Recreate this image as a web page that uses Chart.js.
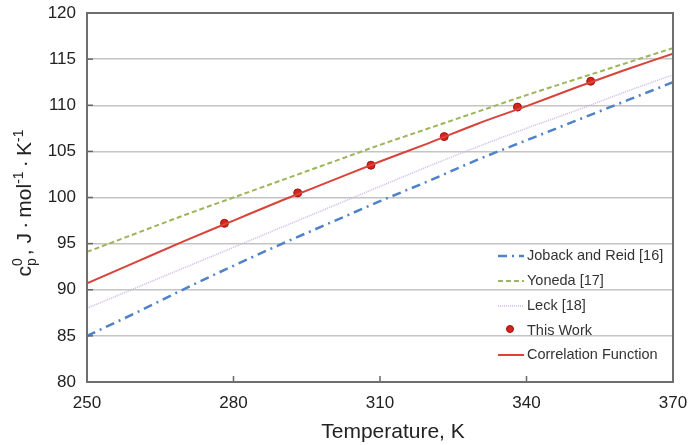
<!DOCTYPE html>
<html>
<head>
<meta charset="utf-8">
<script src="https://cdn.jsdelivr.net/npm/chart.js@4.4.1/dist/chart.umd.min.js"></script>
<style>
html,body{margin:0;padding:0;background:#fff;}
#wrap{position:relative;width:688px;height:445px;}
</style>
</head>
<body>
<div id="wrap"><canvas id="c"></canvas></div>
<script>
// ---- data ----
const temps = [250, 260, 270, 280, 290, 300, 310, 320, 330, 340, 350, 360, 370];
const jobackReid = [85.0, 87.5, 90.1, 92.6, 95.0, 97.3, 99.6, 101.8, 104.1, 106.2, 108.3, 110.4, 112.5];
const yoneda = [94.1, 96.1, 98.1, 100.0, 101.9, 103.8, 105.7, 107.5, 109.3, 111.1, 112.8, 114.5, 116.2];
const leck = [88.0, 90.2, 92.4, 94.6, 96.8, 99.0, 101.2, 103.4, 105.5, 107.5, 109.4, 111.4, 113.3];
const correlation = [90.7, 93.0, 95.3, 97.5, 99.7, 101.8, 103.9, 105.9, 108.0, 109.9, 111.9, 113.8, 115.6];
const workT = [278.15, 293.15, 308.15, 323.15, 338.15, 353.15];
const workCp = [97.2, 100.5, 103.5, 106.6, 109.8, 112.6];
const xTicks = [250, 280, 310, 340, 370];
const yTicks = [80, 85, 90, 95, 100, 105, 110, 115, 120];
const seriesNames = ['Joback and Reid [16]', 'Yoneda [17]', 'Leck [18]', 'This Work', 'Correlation Function'];

const pts = (xs, ys) => xs.map((x, i) => ({x: x, y: ys[i]}));
const FONT = "'Liberation Sans', Arial, sans-serif";

const colors = {
  joback: '#4f82c8',
  yoneda: '#9bb65a',
  leck: '#cbb9e6',
  work: '#d8221c',
  corr: '#d8433a'
};

const lineBase = {showLine: true, pointRadius: 0, fill: false, cubicInterpolationMode: 'monotone'};

const datasets = [
  Object.assign({}, lineBase, {label: seriesNames[0], data: pts(temps, jobackReid), borderColor: colors.joback, borderWidth: 2.5, borderDash: [9, 5, 2, 5]}),
  Object.assign({}, lineBase, {label: seriesNames[1], data: pts(temps, yoneda), borderColor: colors.yoneda, borderWidth: 2, borderDash: [5, 3]}),
  Object.assign({}, lineBase, {label: seriesNames[2], data: pts(temps, leck), borderColor: colors.leck, borderWidth: 1.5, borderDash: [1, 1]}),
  Object.assign({}, lineBase, {label: seriesNames[4], data: pts(temps, correlation), borderColor: colors.corr, borderWidth: 2}),
  {label: seriesNames[3], data: pts(workT, workCp), showLine: false, pointRadius: 4, pointBackgroundColor: colors.work, pointBorderColor: '#9a1410', pointBorderWidth: 1}
];

const decor = {
  id: 'decor',
  afterDraw(chart) {
    const ctx = chart.ctx;
    const a = chart.chartArea;
    const xs = chart.scales.x, ys = chart.scales.y;
    ctx.save();
    // inner ticks
    ctx.strokeStyle = '#666';
    ctx.lineWidth = 1.5;
    xTicks.forEach(v => {
      const px = xs.getPixelForValue(v);
      ctx.beginPath(); ctx.moveTo(px, a.bottom); ctx.lineTo(px, a.bottom - 6); ctx.stroke();
    });
    yTicks.forEach(v => {
      const py = ys.getPixelForValue(v);
      ctx.beginPath(); ctx.moveTo(a.left, py); ctx.lineTo(a.left + 6, py); ctx.stroke();
    });
    // border
    ctx.strokeStyle = '#6e6e6e';
    ctx.lineWidth = 2;
    ctx.strokeRect(a.left, a.top, a.right - a.left, a.bottom - a.top);

    // x title
    ctx.fillStyle = '#222';
    ctx.font = '21px ' + FONT;
    ctx.textAlign = 'center';
    ctx.textBaseline = 'middle';
    ctx.fillText('Temperature, K', 393, 432);

    // y title with sub/superscripts
    ctx.save();
    ctx.translate(24, 203);
    ctx.rotate(-Math.PI / 2);
    const big = '21px ' + FONT, small = '14px ' + FONT;
    const parts = [
      {t: 'c', f: big, dy: 0},
      {t: 'p', f: small, dy: 5, sub: true},
      {t: '0', f: small, dy: -9, sup0: true},
      {t: ', J\u2009\u00b7\u2009mol', f: big, dy: 0},
      {t: '-1', f: small, dy: -8},
      {t: '\u2009\u00b7\u2009K', f: big, dy: 0},
      {t: '-1', f: small, dy: -8}
    ];
    let total = 0, subW = 0;
    parts.forEach(p => {
      ctx.font = p.f;
      const w = ctx.measureText(p.t).width;
      p.w = w;
      if (p.sub) { subW = w; total += w; }
      else if (p.sup0) { total += Math.max(0, w - subW) + 3; }
      else total += w;
    });
    let x = -total / 2, subStart = 0;
    ctx.textAlign = 'left';
    ctx.textBaseline = 'alphabetic';
    parts.forEach(p => {
      ctx.font = p.f;
      if (p.sub) { subStart = x; ctx.fillText(p.t, x, 7 + p.dy); x += p.w; }
      else if (p.sup0) { ctx.fillText(p.t, subStart, 7 + p.dy); x = subStart + Math.max(p.w, subW) + 3; }
      else { ctx.fillText(p.t, x, 7 + p.dy); x += p.w; }
    });
    ctx.restore();

    // legend
    const lx0 = 498, lx1 = 524, tx = 527;
    const ly = [256, 281, 306, 331, 355];
    ctx.font = '14.5px ' + FONT;
    ctx.textAlign = 'left';
    ctx.textBaseline = 'middle';
    const styles = [
      {c: colors.joback, w: 2.5, d: [9, 5, 2, 5]},
      {c: colors.yoneda, w: 2, d: [5, 3]},
      {c: colors.leck, w: 1.5, d: [1, 1]},
      null,
      {c: colors.corr, w: 2, d: []}
    ];
    seriesNames.forEach((name, i) => {
      const y = ly[i];
      const s = styles[i];
      if (s) {
        ctx.save();
        ctx.strokeStyle = s.c; ctx.lineWidth = s.w; ctx.setLineDash(s.d);
        ctx.beginPath(); ctx.moveTo(lx0, y); ctx.lineTo(lx1, y); ctx.stroke();
        ctx.restore();
      } else {
        ctx.save();
        ctx.fillStyle = colors.work; ctx.strokeStyle = '#9a1410'; ctx.lineWidth = 1;
        ctx.beginPath(); ctx.arc((lx0 + lx1) / 2 - 1, y - 2, 3.5, 0, Math.PI * 2); ctx.fill(); ctx.stroke();
        ctx.restore();
      }
      ctx.fillStyle = '#333';
      ctx.fillText(name, tx, y);
    });
    ctx.restore();
  }
};

new Chart(document.getElementById('c'), {
  type: 'scatter',
  data: {datasets: datasets},
  options: {
    responsive: true,
    maintainAspectRatio: false,
    animation: false,
    layout: {padding: {top: 13, right: 15, left: 0, bottom: 0}},
    plugins: {legend: {display: false}, tooltip: {enabled: false}},
    scales: {
      x: {
        type: 'linear', min: 250, max: 370,
        afterBuildTicks: s => { s.ticks = xTicks.map(v => ({value: v})); },
        afterFit: s => { s.height = 63; s.paddingLeft = 0; s.paddingRight = 0; },
        grid: {display: false, drawTicks: false},
        border: {display: false},
        ticks: {padding: 11, color: '#222', font: {family: FONT, size: 17}}
      },
      y: {
        type: 'linear', min: 80, max: 120,
        afterBuildTicks: s => { s.ticks = yTicks.map(v => ({value: v})); },
        afterFit: s => { s.width = 87; s.paddingTop = 0; s.paddingBottom = 0; },
        grid: {color: '#c4c4c4', lineWidth: 1.5, drawTicks: false},
        border: {display: false},
        ticks: {padding: 11, color: '#222', font: {family: FONT, size: 17}}
      }
    }
  },
  plugins: [decor]
});
</script>
</body>
</html>
